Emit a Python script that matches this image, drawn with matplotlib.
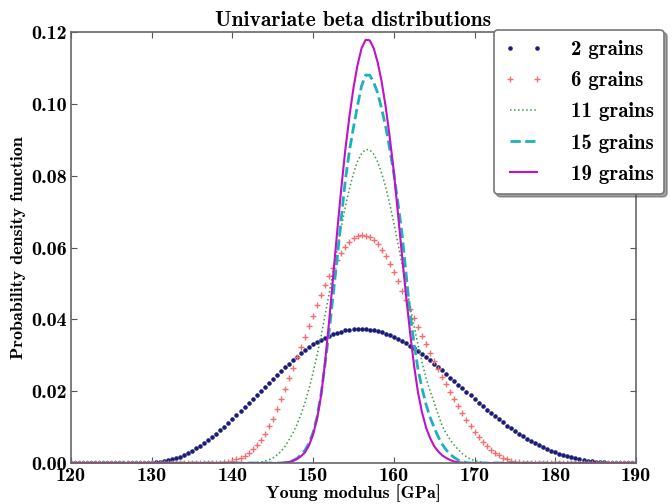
import numpy as np
import matplotlib
matplotlib.use("Agg")
import matplotlib.pyplot as plt
from matplotlib.ticker import FormatStrFormatter, MultipleLocator

# common x grid [GPa]
X_MIN, X_MAX, STEP = 120.0, 190.0, 0.5
x_grid = np.arange(X_MIN, X_MAX + STEP / 2, STEP)

labels = ["2 grains", "6 grains", "11 grains", "15 grains", "19 grains"]

# pdf values, every 0.5 GPa from the given start
# (outside the listed range the curves sit on zero)
g2_start = 130.0
g2 = [0.0001, 0.0002, 0.0004, 0.0006, 0.0008, 0.0011, 0.0014, 0.0018, 0.0023, 0.0028,
      0.0034, 0.0041, 0.0048, 0.0056, 0.0064, 0.0073, 0.0082, 0.0091, 0.0101, 0.0111,
      0.0122, 0.0133, 0.0144, 0.0155, 0.0166, 0.0177, 0.0189, 0.0200, 0.0212, 0.0224,
      0.0235, 0.0246, 0.0257, 0.0267, 0.0277, 0.0287, 0.0296, 0.0305, 0.0314, 0.0322,
      0.0330, 0.0337, 0.0343, 0.0349, 0.0354, 0.0359, 0.0363, 0.0366, 0.0369, 0.0371,
      0.0372, 0.0373, 0.0373, 0.0372, 0.0371, 0.0369, 0.0367, 0.0364, 0.0360, 0.0356,
      0.0351, 0.0346, 0.0340, 0.0333, 0.0326, 0.0319, 0.0311, 0.0303, 0.0295, 0.0286,
      0.0277, 0.0268, 0.0258, 0.0248, 0.0238, 0.0228, 0.0218, 0.0208, 0.0198, 0.0188,
      0.0178, 0.0168, 0.0158, 0.0149, 0.0140, 0.0131, 0.0122, 0.0113, 0.0104, 0.0097,
      0.0089, 0.0082, 0.0075, 0.0068, 0.0062, 0.0056, 0.0050, 0.0044, 0.0039, 0.0034,
      0.0030, 0.0026, 0.0022, 0.0019, 0.0016, 0.0013, 0.0011, 0.0009, 0.0007, 0.0005,
      0.0004, 0.0003, 0.0002, 0.0001, 0.0001]

g6_start = 137.0
g6 = [0.0000, 0.0000, 0.0001, 0.0001, 0.0002, 0.0004, 0.0006, 0.0010, 0.0014, 0.0020,
      0.0028, 0.0038, 0.0050, 0.0065, 0.0082, 0.0102, 0.0123, 0.0150, 0.0178, 0.0207,
      0.0236, 0.0265, 0.0294, 0.0323, 0.0352, 0.0381, 0.0410, 0.0439, 0.0468, 0.0495,
      0.0520, 0.0543, 0.0565, 0.0584, 0.0602, 0.0615, 0.0626, 0.0632, 0.0635, 0.0633,
      0.0628, 0.0620, 0.0609, 0.0594, 0.0576, 0.0555, 0.0532, 0.0506, 0.0480, 0.0454,
      0.0428, 0.0403, 0.0378, 0.0354, 0.0330, 0.0307, 0.0284, 0.0262, 0.0240, 0.0219,
      0.0198, 0.0178, 0.0158, 0.0139, 0.0120, 0.0103, 0.0087, 0.0073, 0.0059, 0.0048,
      0.0037, 0.0029, 0.0021, 0.0015, 0.0010, 0.0007, 0.0004, 0.0002, 0.0001, 0.0000]

g11_start = 142.5
g11 = [0.0000, 0.0001, 0.0003, 0.0005, 0.0009, 0.0014, 0.0022, 0.0032, 0.0046, 0.0064,
       0.0084, 0.0107, 0.0136, 0.0169, 0.0208, 0.0252, 0.0302, 0.0355, 0.0414, 0.0474,
       0.0537, 0.0598, 0.0658, 0.0714, 0.0764, 0.0807, 0.0840, 0.0862, 0.0873, 0.0872,
       0.0860, 0.0838, 0.0806, 0.0767, 0.0720, 0.0668, 0.0612, 0.0554, 0.0496, 0.0437,
       0.0381, 0.0328, 0.0280, 0.0235, 0.0200, 0.0168, 0.0134, 0.0103, 0.0082, 0.0064,
       0.0049, 0.0037, 0.0026, 0.0017, 0.0011, 0.0007, 0.0004, 0.0002, 0.0001, 0.0000]

g15_start = 146.0
g15 = [0.0000, 0.0001, 0.0003, 0.0007, 0.0013, 0.0023, 0.0036, 0.0056, 0.0085, 0.0130,
       0.0195, 0.0280, 0.0370, 0.0472, 0.0575, 0.0685, 0.0790, 0.0870, 0.0935, 0.0995,
       0.1050, 0.1080, 0.1080, 0.1060, 0.1030, 0.0985, 0.0935, 0.0873, 0.0805, 0.0725,
       0.0640, 0.0530, 0.0420, 0.0332, 0.0260, 0.0207, 0.0162, 0.0127, 0.0098, 0.0073,
       0.0052, 0.0036, 0.0024, 0.0015, 0.0008, 0.0004, 0.0001, 0.0000]

g19_start = 146.0
g19 = [0.0000, 0.0001, 0.0003, 0.0006, 0.0011, 0.0019, 0.0030, 0.0050, 0.0080, 0.0125,
       0.0190, 0.0285, 0.0400, 0.0525, 0.0650, 0.0768, 0.0875, 0.0966, 0.1045, 0.1108,
       0.1155, 0.1178, 0.1177, 0.1155, 0.1115, 0.1060, 0.0990, 0.0905, 0.0810, 0.0697,
       0.0580, 0.0468, 0.0365, 0.0272, 0.0195, 0.0140, 0.0098, 0.0069, 0.0047, 0.0032,
       0.0021, 0.0014, 0.0008, 0.0004, 0.0002, 0.0001, 0.0000]


def on_grid(vals, start):
    y = np.zeros(len(x_grid))
    i0 = int(round((start - X_MIN) / STEP))
    y[i0:i0 + len(vals)] = vals
    return y


series = [on_grid(g2, g2_start), on_grid(g6, g6_start), on_grid(g11, g11_start),
          on_grid(g15, g15_start), on_grid(g19, g19_start)]

styles = [
    dict(color="#1b1b7a", linestyle="none", marker=".", markersize=4.5),
    dict(color="#f07070", linestyle="none", marker="+", markersize=5, markeredgewidth=1),
    dict(color="#3c9a3c", linestyle=":", linewidth=1.1),
    dict(color="#1fb0c0", linestyle="--", linewidth=2.0),
    dict(color="#c010c8", linestyle="-", linewidth=1.5),
]

plt.rcParams["font.family"] = "cmb10"
plt.rcParams["axes.unicode_minus"] = False

fig = plt.figure(figsize=(6.72, 5.04), dpi=100)
ax = fig.add_axes([0.1057, 0.0813, 0.8407, 0.8552])

for y, lab, st in zip(series, labels, styles):
    ax.plot(x_grid, y, label=lab, **st)

ax.set_xlim(120, 190)
ax.set_ylim(0, 0.12)
ax.xaxis.set_major_locator(MultipleLocator(10))
ax.yaxis.set_major_locator(MultipleLocator(0.02))
ax.xaxis.set_major_formatter(FormatStrFormatter("%d"))
ax.yaxis.set_major_formatter(FormatStrFormatter("%.2f"))
ax.tick_params(direction="in", top=True, right=True, length=4, width=0.8,
               color="#555555", labelsize=14.5, pad=3)

for sp in ax.spines.values():
    sp.set_color("#666666")
    sp.set_linewidth(1.2)

ax.set_title("Univariate beta distributions", fontsize=15.5, pad=4)
ax.set_xlabel("Young modulus [GPa]", fontsize=13, labelpad=-1)
ax.set_ylabel("Probability density function", fontsize=13, labelpad=4)

leg = ax.legend(loc="upper right", bbox_to_anchor=(1.05, 1.005), numpoints=2,
                fancybox=True, shadow=True, framealpha=1, edgecolor="#777777",
                fontsize=15, handlelength=1.9, handletextpad=1.3, labelspacing=0.58,
                borderpad=0.5, borderaxespad=0.0)
leg.get_frame().set_linewidth(1.2)

fig.savefig("out.png", dpi=100)
